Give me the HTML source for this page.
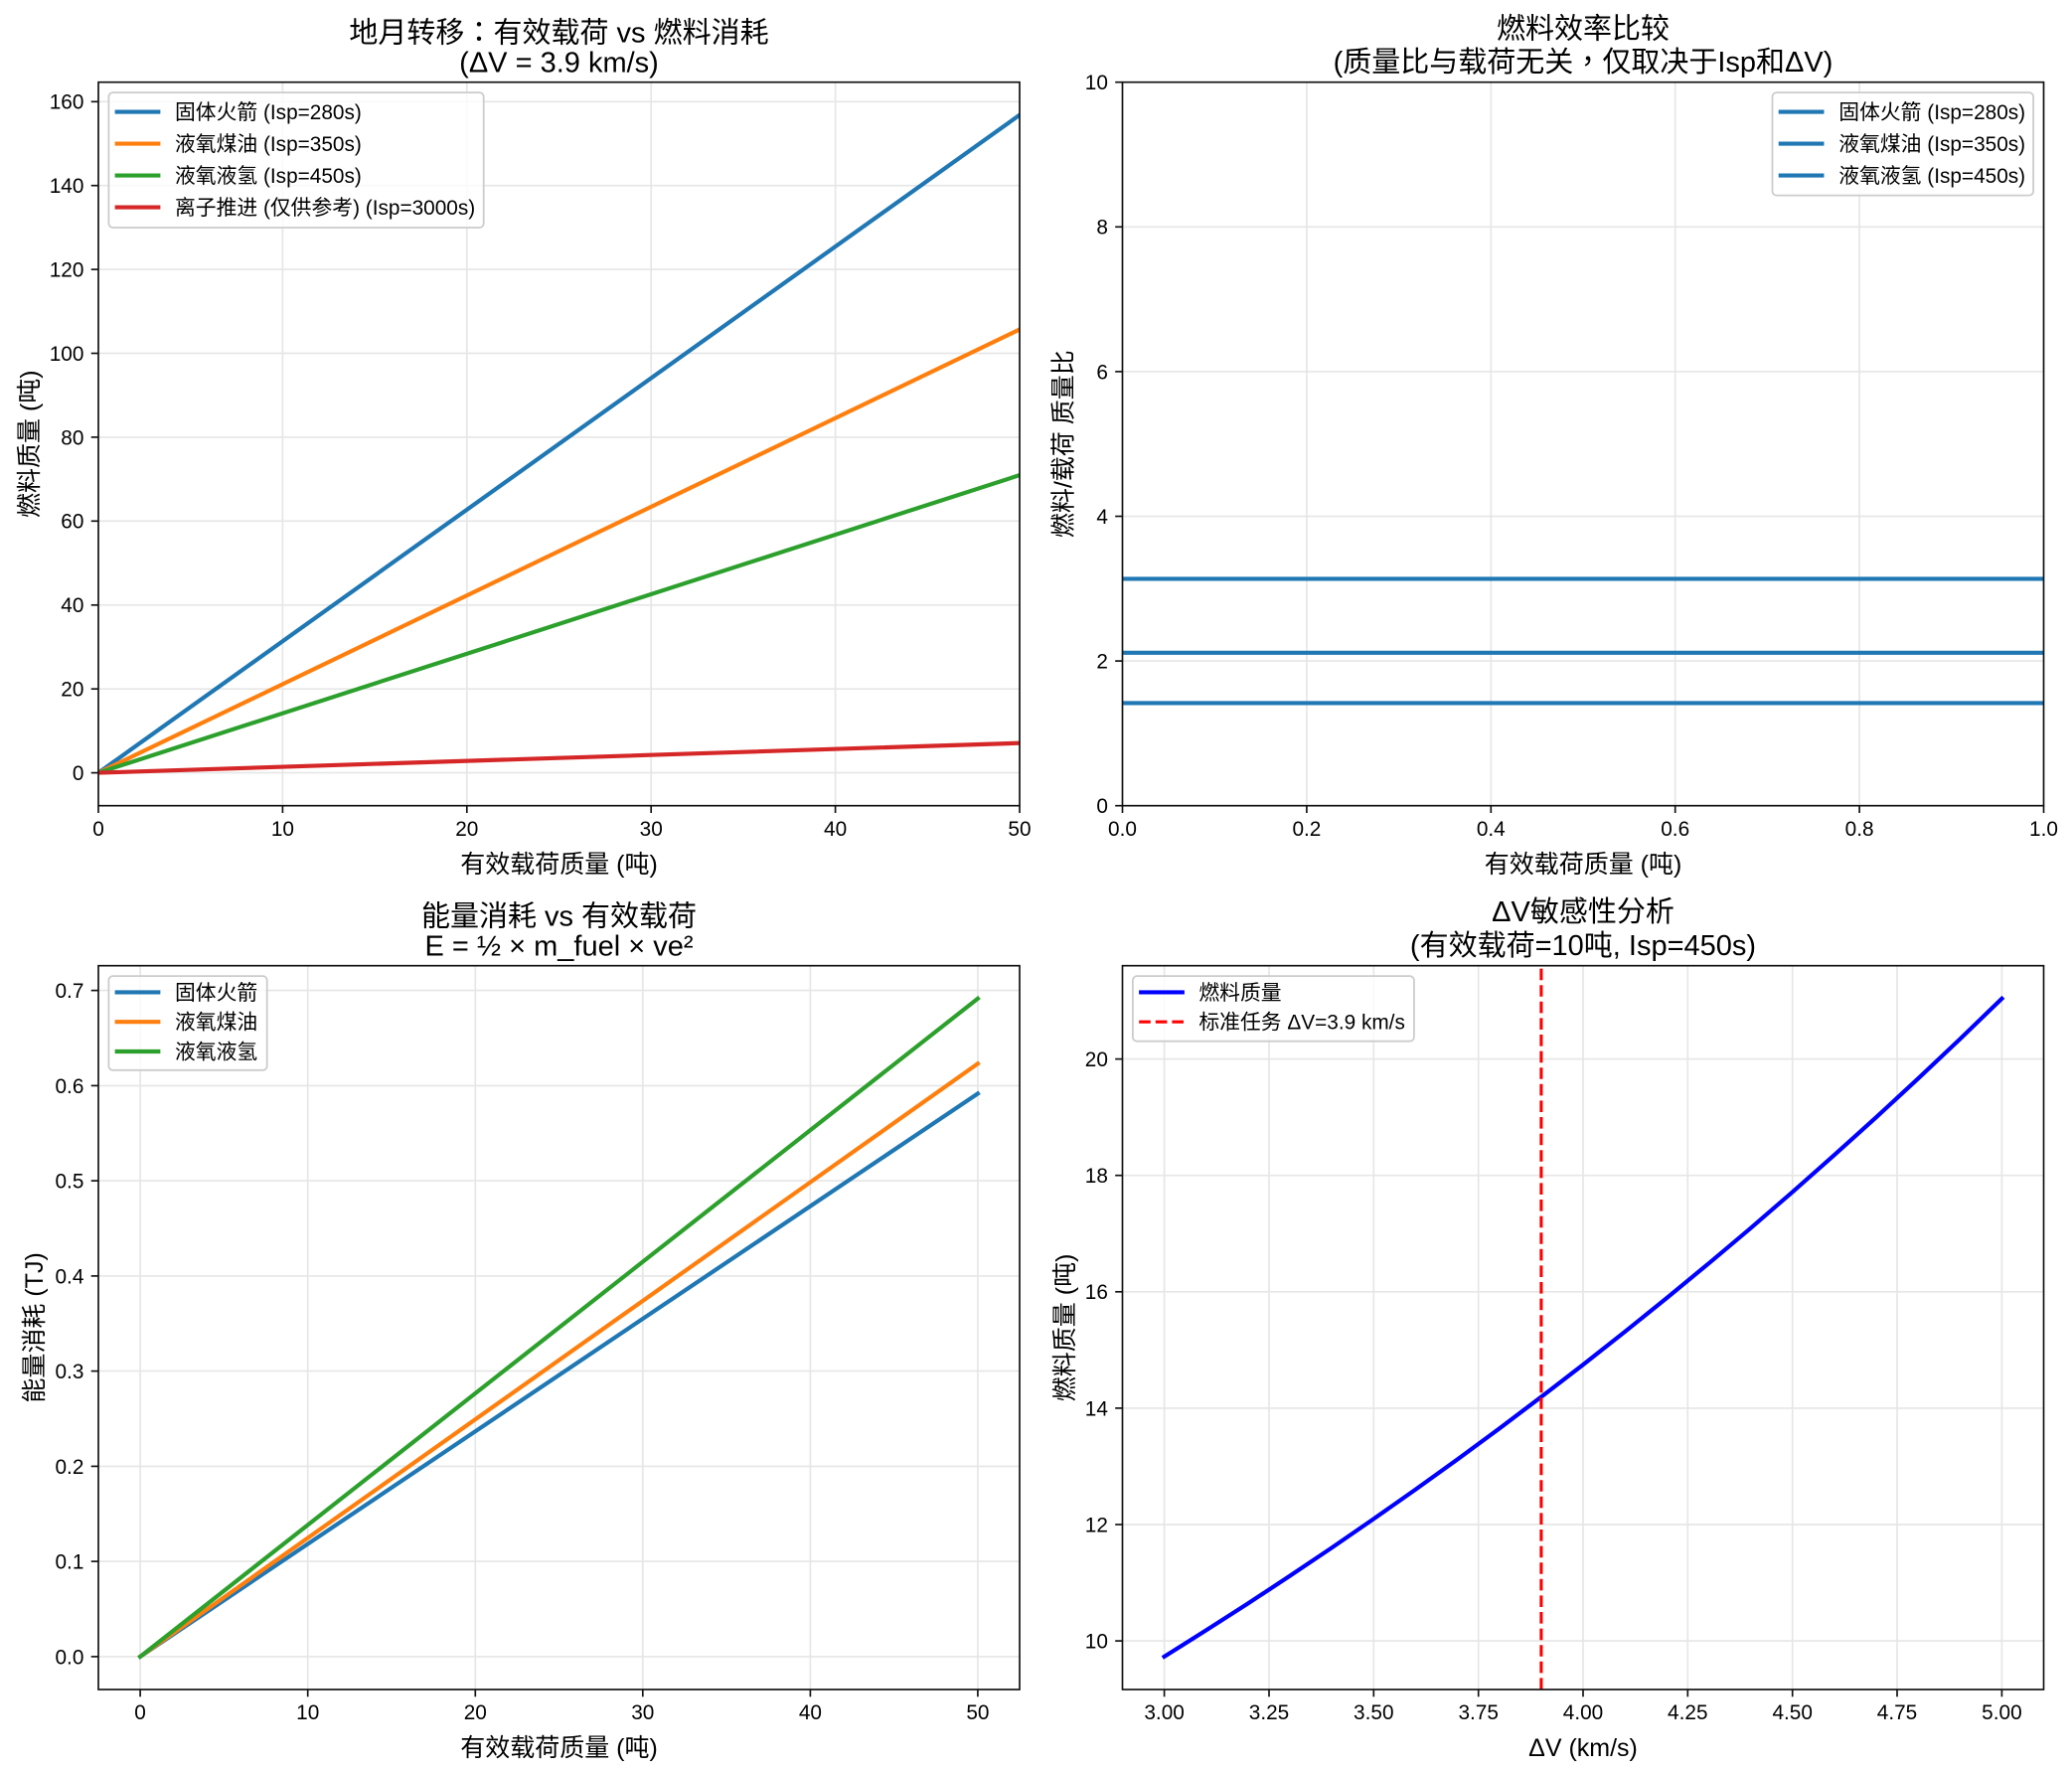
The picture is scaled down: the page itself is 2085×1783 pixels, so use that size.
<!DOCTYPE html>
<html><head><meta charset="utf-8"><style>
html,body{margin:0;padding:0;background:#fff;}
svg{display:block;}
text{font-family:"Liberation Sans","Noto Sans CJK SC",sans-serif;fill:#000;}
.tk{font-size:20.8px;}
.lg{font-size:20.8px;}
.ti{font-size:29px;}
.al{font-size:25px;}
.g{stroke:#e6e6e6;stroke-width:1.67;}
.sp{stroke:#111;stroke-width:1.67;fill:none;}
.t{stroke:#111;stroke-width:1.67;}
.tc{font-family:"Noto Sans CJK TC","Noto Sans CJK SC",sans-serif;}
</style></head><body>
<svg width="2085" height="1783" viewBox="0 0 2085 1783" xmlns="http://www.w3.org/2000/svg">
<defs>
<clipPath id="c1"><rect x="99" y="82.7" width="927" height="728"/></clipPath>
<clipPath id="c2"><rect x="1129.5" y="82.7" width="927" height="728"/></clipPath>
<clipPath id="c3"><rect x="99" y="971.7" width="927" height="728.3"/></clipPath>
<clipPath id="c4"><rect x="1129.5" y="971.7" width="927" height="728.3"/></clipPath>
</defs>
<rect width="2085" height="1783" fill="#fff"/>

<!-- ========== TOP LEFT ========== -->
<g class="g">
<line x1="99" y1="82.7" x2="99" y2="810.7"/><line x1="284.4" y1="82.7" x2="284.4" y2="810.7"/><line x1="469.8" y1="82.7" x2="469.8" y2="810.7"/><line x1="655.2" y1="82.7" x2="655.2" y2="810.7"/><line x1="840.6" y1="82.7" x2="840.6" y2="810.7"/><line x1="1026" y1="82.7" x2="1026" y2="810.7"/>
<line x1="99" y1="102.3" x2="1026" y2="102.3"/><line x1="99" y1="186.7" x2="1026" y2="186.7"/><line x1="99" y1="271.1" x2="1026" y2="271.1"/><line x1="99" y1="355.5" x2="1026" y2="355.5"/><line x1="99" y1="439.9" x2="1026" y2="439.9"/><line x1="99" y1="524.3" x2="1026" y2="524.3"/><line x1="99" y1="608.8" x2="1026" y2="608.8"/><line x1="99" y1="693.2" x2="1026" y2="693.2"/><line x1="99" y1="777.6" x2="1026" y2="777.6"/>
</g>
<g clip-path="url(#c1)" stroke-width="4.17" stroke-linecap="square" fill="none">
<line x1="99" y1="777.6" x2="1026" y2="115.7" stroke="#1f77b4"/>
<line x1="99" y1="777.6" x2="1026" y2="331.5" stroke="#ff7f0e"/>
<line x1="99" y1="777.6" x2="1026" y2="478.1" stroke="#2ca02c"/>
<line x1="99" y1="777.6" x2="1026" y2="747.7" stroke="#d62728"/>
</g>
<rect class="sp" x="99" y="82.7" width="927" height="728"/>
<g class="t">
<line x1="99" y1="810.7" x2="99" y2="818"/><line x1="284.4" y1="810.7" x2="284.4" y2="818"/><line x1="469.8" y1="810.7" x2="469.8" y2="818"/><line x1="655.2" y1="810.7" x2="655.2" y2="818"/><line x1="840.6" y1="810.7" x2="840.6" y2="818"/><line x1="1026" y1="810.7" x2="1026" y2="818"/>
<line x1="91.7" y1="102.3" x2="99" y2="102.3"/><line x1="91.7" y1="186.7" x2="99" y2="186.7"/><line x1="91.7" y1="271.1" x2="99" y2="271.1"/><line x1="91.7" y1="355.5" x2="99" y2="355.5"/><line x1="91.7" y1="439.9" x2="99" y2="439.9"/><line x1="91.7" y1="524.3" x2="99" y2="524.3"/><line x1="91.7" y1="608.8" x2="99" y2="608.8"/><line x1="91.7" y1="693.2" x2="99" y2="693.2"/><line x1="91.7" y1="777.6" x2="99" y2="777.6"/>
</g>
<g class="tk" text-anchor="middle">
<text x="99" y="841">0</text><text x="284.4" y="841">10</text><text x="469.8" y="841">20</text><text x="655.2" y="841">30</text><text x="840.6" y="841">40</text><text x="1026" y="841">50</text>
</g>
<g class="tk" text-anchor="end">
<text x="84.4" y="109.7">160</text><text x="84.4" y="194.1">140</text><text x="84.4" y="278.5">120</text><text x="84.4" y="362.9">100</text><text x="84.4" y="447.3">80</text><text x="84.4" y="531.7">60</text><text x="84.4" y="616.2">40</text><text x="84.4" y="700.6">20</text><text x="84.4" y="785">0</text>
</g>
<g class="ti" text-anchor="middle">
<text x="562.5" y="42.5">地月转移<tspan class="tc">：</tspan>有效载荷 vs 燃料消耗</text>
<text x="562.5" y="72.7">(ΔV = 3.9 km/s)</text>
</g>
<text class="al" x="562.5" y="878" text-anchor="middle">有效载荷质量 (吨)</text>
<text class="al" transform="translate(38,446.7) rotate(-90)" text-anchor="middle">燃料质量 (吨)</text>
<rect x="109.4" y="93.1" width="377.3" height="135.9" rx="4.2" fill="#fff" fill-opacity="0.8" stroke="#cccccc" stroke-width="1.8"/>
<g stroke-width="4.17" stroke-linecap="square">
<line x1="117.7" y1="112.6" x2="159.3" y2="112.6" stroke="#1f77b4"/>
<line x1="117.7" y1="144.6" x2="159.3" y2="144.6" stroke="#ff7f0e"/>
<line x1="117.7" y1="176.6" x2="159.3" y2="176.6" stroke="#2ca02c"/>
<line x1="117.7" y1="208.6" x2="159.3" y2="208.6" stroke="#d62728"/>
</g>
<g class="lg">
<text x="176" y="120.1">固体火箭 (Isp=280s)</text>
<text x="176" y="152.1">液氧煤油 (Isp=350s)</text>
<text x="176" y="184.1">液氧液氢 (Isp=450s)</text>
<text x="176" y="216.1">离子推进 (仅供参考) (Isp=3000s)</text>
</g>

<!-- ========== TOP RIGHT ========== -->
<g class="g">
<line x1="1129.5" y1="82.7" x2="1129.5" y2="810.7"/><line x1="1314.9" y1="82.7" x2="1314.9" y2="810.7"/><line x1="1500.3" y1="82.7" x2="1500.3" y2="810.7"/><line x1="1685.7" y1="82.7" x2="1685.7" y2="810.7"/><line x1="1871.1" y1="82.7" x2="1871.1" y2="810.7"/><line x1="2056.5" y1="82.7" x2="2056.5" y2="810.7"/>
<line x1="1129.5" y1="82.7" x2="2056.5" y2="82.7"/><line x1="1129.5" y1="228.3" x2="2056.5" y2="228.3"/><line x1="1129.5" y1="373.9" x2="2056.5" y2="373.9"/><line x1="1129.5" y1="519.5" x2="2056.5" y2="519.5"/><line x1="1129.5" y1="665.1" x2="2056.5" y2="665.1"/><line x1="1129.5" y1="810.7" x2="2056.5" y2="810.7"/>
</g>
<g clip-path="url(#c2)" stroke-width="4.17" stroke="#1f77b4">
<line x1="1129.5" y1="582.4" x2="2056.5" y2="582.4"/>
<line x1="1129.5" y1="656.8" x2="2056.5" y2="656.8"/>
<line x1="1129.5" y1="707.4" x2="2056.5" y2="707.4"/>
</g>
<rect class="sp" x="1129.5" y="82.7" width="927" height="728"/>
<g class="t">
<line x1="1129.5" y1="810.7" x2="1129.5" y2="818"/><line x1="1314.9" y1="810.7" x2="1314.9" y2="818"/><line x1="1500.3" y1="810.7" x2="1500.3" y2="818"/><line x1="1685.7" y1="810.7" x2="1685.7" y2="818"/><line x1="1871.1" y1="810.7" x2="1871.1" y2="818"/><line x1="2056.5" y1="810.7" x2="2056.5" y2="818"/>
<line x1="1122.2" y1="82.7" x2="1129.5" y2="82.7"/><line x1="1122.2" y1="228.3" x2="1129.5" y2="228.3"/><line x1="1122.2" y1="373.9" x2="1129.5" y2="373.9"/><line x1="1122.2" y1="519.5" x2="1129.5" y2="519.5"/><line x1="1122.2" y1="665.1" x2="1129.5" y2="665.1"/><line x1="1122.2" y1="810.7" x2="1129.5" y2="810.7"/>
</g>
<g class="tk" text-anchor="middle">
<text x="1129.5" y="841">0.0</text><text x="1314.9" y="841">0.2</text><text x="1500.3" y="841">0.4</text><text x="1685.7" y="841">0.6</text><text x="1871.1" y="841">0.8</text><text x="2056.5" y="841">1.0</text>
</g>
<g class="tk" text-anchor="end">
<text x="1114.9" y="90.1">10</text><text x="1114.9" y="235.7">8</text><text x="1114.9" y="381.3">6</text><text x="1114.9" y="526.9">4</text><text x="1114.9" y="672.5">2</text><text x="1114.9" y="818.1">0</text>
</g>
<g class="ti" text-anchor="middle">
<text x="1593" y="38.5">燃料效率比较</text>
<text x="1593" y="72.2">(质量比与载荷无关<tspan class="tc">，</tspan>仅取决于Isp和ΔV)</text>
</g>
<text class="al" x="1593" y="878" text-anchor="middle">有效载荷质量 (吨)</text>
<text class="al" transform="translate(1078.5,446.7) rotate(-90)" text-anchor="middle">燃料/载荷 质量比</text>
<rect x="1783.5" y="93.1" width="262.6" height="103.5" rx="4.2" fill="#fff" fill-opacity="0.8" stroke="#cccccc" stroke-width="1.8"/>
<g stroke-width="4.17" stroke-linecap="square" stroke="#1f77b4">
<line x1="1791.8" y1="112.6" x2="1833.4" y2="112.6"/>
<line x1="1791.8" y1="144.6" x2="1833.4" y2="144.6"/>
<line x1="1791.8" y1="176.6" x2="1833.4" y2="176.6"/>
</g>
<g class="lg">
<text x="1850.3" y="120.1">固体火箭 (Isp=280s)</text>
<text x="1850.3" y="152.1">液氧煤油 (Isp=350s)</text>
<text x="1850.3" y="184.1">液氧液氢 (Isp=450s)</text>
</g>

<!-- ========== BOTTOM LEFT ========== -->
<g class="g">
<line x1="141.1" y1="971.7" x2="141.1" y2="1700"/><line x1="309.7" y1="971.7" x2="309.7" y2="1700"/><line x1="478.3" y1="971.7" x2="478.3" y2="1700"/><line x1="646.8" y1="971.7" x2="646.8" y2="1700"/><line x1="815.4" y1="971.7" x2="815.4" y2="1700"/><line x1="983.9" y1="971.7" x2="983.9" y2="1700"/>
<line x1="99" y1="996.6" x2="1026" y2="996.6"/><line x1="99" y1="1092.4" x2="1026" y2="1092.4"/><line x1="99" y1="1188.1" x2="1026" y2="1188.1"/><line x1="99" y1="1283.9" x2="1026" y2="1283.9"/><line x1="99" y1="1379.6" x2="1026" y2="1379.6"/><line x1="99" y1="1475.4" x2="1026" y2="1475.4"/><line x1="99" y1="1571.1" x2="1026" y2="1571.1"/><line x1="99" y1="1666.9" x2="1026" y2="1666.9"/>
</g>
<g clip-path="url(#c3)" stroke-width="4.17" stroke-linecap="square" fill="none">
<line x1="141.1" y1="1666.9" x2="983.9" y2="1100.4" stroke="#1f77b4"/>
<line x1="141.1" y1="1666.9" x2="983.9" y2="1070.3" stroke="#ff7f0e"/>
<line x1="141.1" y1="1666.9" x2="983.9" y2="1004.8" stroke="#2ca02c"/>
</g>
<rect class="sp" x="99" y="971.7" width="927" height="728.3"/>
<g class="t">
<line x1="141.1" y1="1700" x2="141.1" y2="1707.3"/><line x1="309.7" y1="1700" x2="309.7" y2="1707.3"/><line x1="478.3" y1="1700" x2="478.3" y2="1707.3"/><line x1="646.8" y1="1700" x2="646.8" y2="1707.3"/><line x1="815.4" y1="1700" x2="815.4" y2="1707.3"/><line x1="983.9" y1="1700" x2="983.9" y2="1707.3"/>
<line x1="91.7" y1="996.6" x2="99" y2="996.6"/><line x1="91.7" y1="1092.4" x2="99" y2="1092.4"/><line x1="91.7" y1="1188.1" x2="99" y2="1188.1"/><line x1="91.7" y1="1283.9" x2="99" y2="1283.9"/><line x1="91.7" y1="1379.6" x2="99" y2="1379.6"/><line x1="91.7" y1="1475.4" x2="99" y2="1475.4"/><line x1="91.7" y1="1571.1" x2="99" y2="1571.1"/><line x1="91.7" y1="1666.9" x2="99" y2="1666.9"/>
</g>
<g class="tk" text-anchor="middle">
<text x="141.1" y="1730">0</text><text x="309.7" y="1730">10</text><text x="478.3" y="1730">20</text><text x="646.8" y="1730">30</text><text x="815.4" y="1730">40</text><text x="983.9" y="1730">50</text>
</g>
<g class="tk" text-anchor="end">
<text x="84.4" y="1004">0.7</text><text x="84.4" y="1099.8">0.6</text><text x="84.4" y="1195.5">0.5</text><text x="84.4" y="1291.3">0.4</text><text x="84.4" y="1387">0.3</text><text x="84.4" y="1482.8">0.2</text><text x="84.4" y="1578.5">0.1</text><text x="84.4" y="1674.3">0.0</text>
</g>
<g class="ti" text-anchor="middle">
<text x="562.5" y="931.5">能量消耗 vs 有效载荷</text>
<text x="562.5" y="961.7">E = ½ × m_fuel × ve²</text>
</g>
<text class="al" x="562.5" y="1767" text-anchor="middle">有效载荷质量 (吨)</text>
<text class="al" transform="translate(43,1335.9) rotate(-90)" text-anchor="middle">能量消耗 (TJ)</text>
<rect x="109.4" y="982.1" width="159.3" height="94.7" rx="4.2" fill="#fff" fill-opacity="0.8" stroke="#cccccc" stroke-width="1.8"/>
<g stroke-width="4.17" stroke-linecap="square">
<line x1="117.7" y1="998.4" x2="159.3" y2="998.4" stroke="#1f77b4"/>
<line x1="117.7" y1="1028.2" x2="159.3" y2="1028.2" stroke="#ff7f0e"/>
<line x1="117.7" y1="1058" x2="159.3" y2="1058" stroke="#2ca02c"/>
</g>
<g class="lg">
<text x="176" y="1005.9">固体火箭</text>
<text x="176" y="1035.7">液氧煤油</text>
<text x="176" y="1065.5">液氧液氢</text>
</g>

<!-- ========== BOTTOM RIGHT ========== -->
<g class="g">
<line x1="1171.6" y1="971.7" x2="1171.6" y2="1700"/><line x1="1277" y1="971.7" x2="1277" y2="1700"/><line x1="1382.3" y1="971.7" x2="1382.3" y2="1700"/><line x1="1487.7" y1="971.7" x2="1487.7" y2="1700"/><line x1="1593" y1="971.7" x2="1593" y2="1700"/><line x1="1698.3" y1="971.7" x2="1698.3" y2="1700"/><line x1="1803.7" y1="971.7" x2="1803.7" y2="1700"/><line x1="1909" y1="971.7" x2="1909" y2="1700"/><line x1="2014.4" y1="971.7" x2="2014.4" y2="1700"/>
<line x1="1129.5" y1="1065.6" x2="2056.5" y2="1065.6"/><line x1="1129.5" y1="1182.7" x2="2056.5" y2="1182.7"/><line x1="1129.5" y1="1299.8" x2="2056.5" y2="1299.8"/><line x1="1129.5" y1="1416.9" x2="2056.5" y2="1416.9"/><line x1="1129.5" y1="1534" x2="2056.5" y2="1534"/><line x1="1129.5" y1="1651.1" x2="2056.5" y2="1651.1"/>
</g>
<g clip-path="url(#c4)" fill="none">
<polyline stroke="#0000ff" stroke-width="4.17" stroke-linecap="square" stroke-linejoin="round" points="1171.6,1666.9 1213.7,1640.4 1255.9,1613.4 1298,1585.6 1340.2,1557.3 1382.3,1528.3 1424.5,1498.7 1466.6,1468.4 1508.7,1437.4 1550.9,1405.6 1593,1373.2 1635.1,1340 1677.3,1306 1719.4,1271.3 1761.6,1235.8 1803.7,1199.4 1845.8,1162.2 1888,1124.2 1930.1,1085.3 1972.3,1045.5 2014.4,1004.8"/>
<line x1="1550.9" y1="1700" x2="1550.9" y2="971.7" stroke="#ff0000" stroke-width="3.1" stroke-dasharray="11.6 5"/>
</g>
<rect class="sp" x="1129.5" y="971.7" width="927" height="728.3"/>
<g class="t">
<line x1="1171.6" y1="1700" x2="1171.6" y2="1707.3"/><line x1="1277" y1="1700" x2="1277" y2="1707.3"/><line x1="1382.3" y1="1700" x2="1382.3" y2="1707.3"/><line x1="1487.7" y1="1700" x2="1487.7" y2="1707.3"/><line x1="1593" y1="1700" x2="1593" y2="1707.3"/><line x1="1698.3" y1="1700" x2="1698.3" y2="1707.3"/><line x1="1803.7" y1="1700" x2="1803.7" y2="1707.3"/><line x1="1909" y1="1700" x2="1909" y2="1707.3"/><line x1="2014.4" y1="1700" x2="2014.4" y2="1707.3"/>
<line x1="1122.2" y1="1065.6" x2="1129.5" y2="1065.6"/><line x1="1122.2" y1="1182.7" x2="1129.5" y2="1182.7"/><line x1="1122.2" y1="1299.8" x2="1129.5" y2="1299.8"/><line x1="1122.2" y1="1416.9" x2="1129.5" y2="1416.9"/><line x1="1122.2" y1="1534" x2="1129.5" y2="1534"/><line x1="1122.2" y1="1651.1" x2="1129.5" y2="1651.1"/>
</g>
<g class="tk" text-anchor="middle">
<text x="1171.6" y="1730">3.00</text><text x="1277" y="1730">3.25</text><text x="1382.3" y="1730">3.50</text><text x="1487.7" y="1730">3.75</text><text x="1593" y="1730">4.00</text><text x="1698.3" y="1730">4.25</text><text x="1803.7" y="1730">4.50</text><text x="1909" y="1730">4.75</text><text x="2014.4" y="1730">5.00</text>
</g>
<g class="tk" text-anchor="end">
<text x="1114.9" y="1073">20</text><text x="1114.9" y="1190.1">18</text><text x="1114.9" y="1307.2">16</text><text x="1114.9" y="1424.3">14</text><text x="1114.9" y="1541.4">12</text><text x="1114.9" y="1658.5">10</text>
</g>
<g class="ti" text-anchor="middle">
<text x="1593" y="926.8">ΔV敏感性分析</text>
<text x="1593" y="961.2">(有效载荷=10吨, Isp=450s)</text>
</g>
<text class="al" x="1593" y="1767" text-anchor="middle">ΔV (km/s)</text>
<text class="al" transform="translate(1080,1335.9) rotate(-90)" text-anchor="middle">燃料质量 (吨)</text>
<rect x="1139.9" y="982.1" width="283" height="65.6" rx="4.2" fill="#fff" fill-opacity="0.8" stroke="#cccccc" stroke-width="1.8"/>
<line x1="1148.2" y1="998.4" x2="1189.8" y2="998.4" stroke="#0000ff" stroke-width="4.17" stroke-linecap="square"/>
<line x1="1146.2" y1="1028.2" x2="1191.8" y2="1028.2" stroke="#ff0000" stroke-width="3.1" stroke-dasharray="11.6 5"/>
<g class="lg">
<text x="1206.4" y="1005.9">燃料质量</text>
<text x="1206.4" y="1035.7">标准任务 ΔV=3.9 km/s</text>
</g>
</svg>
</body></html>
